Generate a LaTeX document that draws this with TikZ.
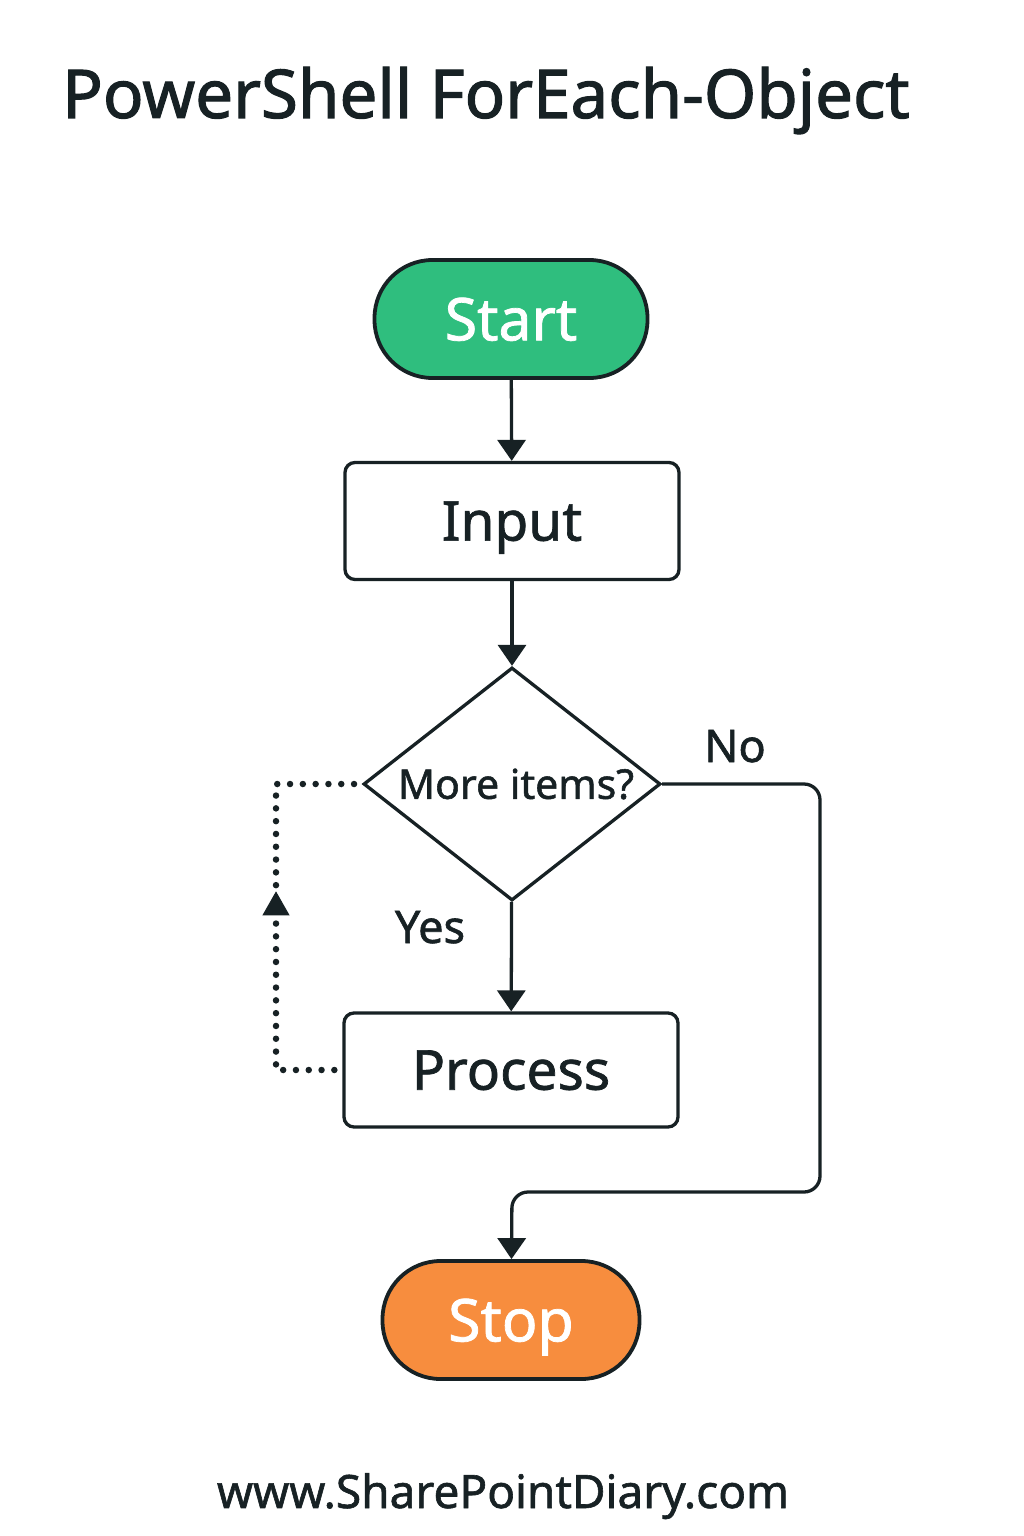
\documentclass[tikz,border=0pt]{standalone}
\usepackage{fontspec}
\setmainfont{Noto Sans}
\newfontfamily\medfont[FakeBold=1.3]{Noto Sans}
\newfontfamily\titlefont[FakeBold=1.6]{Noto Sans}
\usetikzlibrary{shapes.geometric,arrows.meta,decorations.markings}
\definecolor{ink}{HTML}{172124}
\definecolor{startgreen}{HTML}{2FBE7E}
\definecolor{stoporange}{HTML}{F78D3E}
\tikzset{
  terminal/.style={draw=ink, line width=3.8pt, rounded corners=58pt, minimum height=118pt, text=white, font=\medfont\fontsize{59}{59}\selectfont, inner sep=0pt, text depth=0pt},
  stepbox/.style={draw=ink, line width=3.3pt, rounded corners=10pt, minimum width=334pt, minimum height=117pt, text=ink, font=\medfont\fontsize{55}{55}\selectfont, inner sep=0pt, text depth=0pt},
  decision/.style={draw=ink, line width=3.3pt, diamond, aspect=1.275, minimum width=297pt, minimum height=233pt, inner sep=0pt, text=ink, font=\medfont\fontsize{41}{41}\selectfont},
  flow/.style={draw=ink, line width=3.3pt, -{Triangle[length=21pt,width=28pt]}},
  lbl/.style={text=ink, font=\medfont\fontsize{45}{45}\selectfont, inner sep=0pt},
}
\begin{document}
\begin{tikzpicture}[x=1pt,y=-1pt]
\useasboundingbox[fill=white] (0,0) rectangle (1024,1536);
\node[text=ink, font=\titlefont\fontsize{67.3}{67.3}\selectfont, anchor=base west, inner sep=0pt] (title) at (62,118) {PowerShell ForEach-Object};
\node[terminal, fill=startgreen, minimum width=273pt] (start) at (511,319) {Start};
\node[stepbox] (input) at (512,521) {Input};
\node[decision] (dec) at (512,784) {\hspace*{8pt}More items?};
\node[stepbox, minimum height=114pt] (proc) at (511,1070) {Process};
\node[terminal, fill=stoporange, minimum width=257pt] (stop) at (511,1320) {Stop};
\node[lbl, anchor=base] (no) at (735,762) {No};
\node[lbl, anchor=base] (yes) at (430,943) {Yes};
\node[text=ink, font=\medfont\fontsize{46}{46}\selectfont, anchor=base, inner sep=0pt] (foot) at (503,1508) {www.SharePointDiary.com};
\coordinate (n1) at (820,784);
\coordinate (n2) at (820,1192);
\coordinate (n3) at (512,1192);
\coordinate (d1) at (276,1070);
\coordinate (d2) at (276,784);
\draw[flow] (start) -- (input);
\draw[flow] (input) -- (dec);
\draw[flow] (dec) -- (proc);
\draw[flow, rounded corners=16pt] (dec.east) -- (n1) -- (n2) -- (n3) -- (stop);
\draw[ink, line width=6.5pt, line cap=round, dash pattern=on 0pt off 12.8pt,
  postaction={decorate, decoration={markings, mark=at position 237pt with {\arrow[ink, line width=1pt]{Triangle[length=24pt,width=27pt]}}}}]
  ([xshift=-8pt]proc.west) -- (d1) -- (d2) -- ([xshift=-6pt]dec.west);
\end{tikzpicture}
\end{document}
